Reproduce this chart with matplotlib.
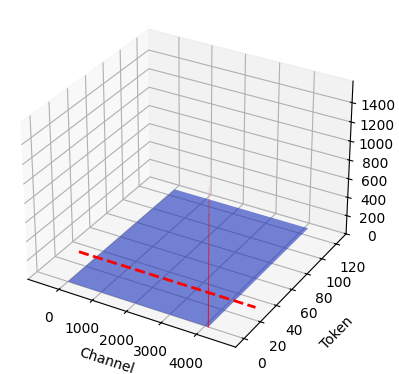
import numpy as np
import matplotlib
matplotlib.use("Agg")
import matplotlib.pyplot as plt

# surface grid
channels = [0, 4096]
tokens = [0, 128]
surface_z = [[0, 0], [0, 0]]

# red dashed line along channel at fixed token
line_channels = [-530, 4685]
line_token = [32, 32]
line_z = [0, 0]

# spike at one channel/token, fading towards the top
spike_channel = 4095
spike_token = 0
spike_z = [0, 400, 800, 1150, 1300, 1430]
spike_alpha = [0.9, 0.7, 0.55, 0.4, 0.12]

X, Y = np.meshgrid(channels, tokens)
Z = np.array(surface_z)

fig = plt.figure(figsize=(3.99, 3.74), dpi=100)
ax = fig.add_axes([0.0, 0.0, 1.0, 1.0], projection="3d")
ax.set_position([0.0, 0.0094, 0.927, 0.989])

ax.plot_surface(X, Y, Z, color="#1932bc", alpha=0.6, shade=False)
ax.plot(line_channels, line_token, line_z, color="red", linestyle="--", linewidth=2, zorder=10)
for i in range(len(spike_alpha)):
    ax.plot([spike_channel, spike_channel], [spike_token, spike_token], spike_z[i:i + 2],
            color="red", linewidth=0.7, alpha=spike_alpha[i], zorder=10)

ax.set_xlabel("Channel", labelpad=4)
ax.set_ylabel("Token", labelpad=8)
ax.set_xticks([0, 1000, 2000, 3000, 4000])
ax.set_yticks([0, 20, 40, 60, 80, 100, 120])
ax.set_zticks([0, 200, 400, 600, 800, 1000, 1200, 1400])
ax.set_xlim(-938, 5092)
ax.set_ylim(-10, 134)
ax.set_zlim(0, 1620)

fig.savefig("out.png", dpi=100)
